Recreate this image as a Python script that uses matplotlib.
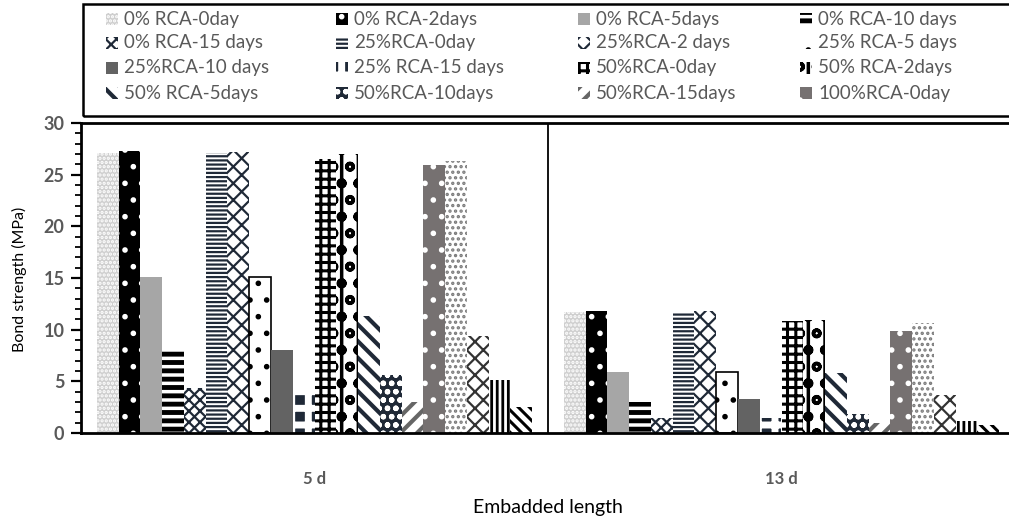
import matplotlib
matplotlib.use("Agg")
import matplotlib.pyplot as plt
import numpy as np
from matplotlib.patches import Rectangle
from matplotlib.ticker import MultipleLocator

plt.rcParams['font.family'] = ['Lato', 'DejaVu Sans']
plt.rcParams['hatch.linewidth'] = 1.6

categories = ["5 d", "13 d"]
series = ["0% RCA-0day", "0% RCA-2days", "0% RCA-5days", "0% RCA-10 days",
          "0% RCA-15 days", "25%RCA-0day", "25%RCA-2 days", "25% RCA-5 days",
          "25%RCA-10 days", "25% RCA-15 days", "50%RCA-0day", "50% RCA-2days",
          "50% RCA-5days", "50%RCA-10days", "50%RCA-15days", "100%RCA-0day",
          "100%RCA-2days", "100%RCA-5days", "100%RCA-10days", "100%RCA-15days"]
values_5d = [27.1, 27.3, 15.1, 8.0, 4.4, 27.1, 27.2, 15.1, 8.0, 4.2,
             26.5, 27.0, 11.3, 5.6, 3.0, 25.9, 26.3, 9.4, 5.1, 2.5]
values_13d = [11.7, 11.8, 5.9, 3.0, 1.5, 11.6, 11.8, 5.9, 3.3, 1.5,
              10.8, 10.9, 5.8, 1.8, 1.0, 9.9, 10.6, 3.7, 1.2, 0.8]
n_legend = 16
yticks = [0, 5, 10, 15, 20, 25, 30]

navy = '#1f2937'
styles = [
    dict(fc='#cfcfcf', hatch='....', ec='white'),
    dict(fc='black', hatch='.', ec='white'),
    dict(fc='#a6a6a6', hatch=None, ec='#a6a6a6'),
    dict(fc='white', hatch='--', ec='black', hlw=3.5),
    dict(fc='white', hatch='xxx', ec=navy),
    dict(fc='white', hatch='----', ec=navy),
    dict(fc='white', hatch='xx', ec=navy),
    dict(fc='white', hatch='.', ec='black', border=True),
    dict(fc='#636363', hatch=None, ec='#636363'),
    dict(fc=navy, hatch='+', ec='white', hlw=5),
    dict(fc='white', hatch='++', ec='black', hlw=2.2),
    dict(fc='white', hatch='|o', ec='black', hlw=2.5),
    dict(fc='white', hatch='\\\\', ec=navy, hlw=3),
    dict(fc=navy, hatch='oo', ec='white'),
    dict(fc='white', hatch='//', ec='#666666', hlw=3),
    dict(fc='#767171', hatch='.', ec='white'),
    dict(fc='white', hatch='...', ec='#7a7a7a'),
    dict(fc='white', hatch='xx', ec='#333333'),
    dict(fc='white', hatch='|||', ec='black', hlw=2),
    dict(fc='white', hatch='\\\\\\', ec='black', hlw=2.2),
]


def style_patch(p, st):
    if st.get('hlw') and hasattr(p, 'set_hatch_linewidth'):
        p.set_hatch_linewidth(st['hlw'])


W, H = 1009, 524
fig = plt.figure(figsize=(W / 100, H / 100), dpi=100)
ax = fig.add_axes([81 / W, (H - 433) / H, (1015 - 81) / W, (433 - 123) / H])

x = np.arange(len(categories))
n = len(series)
w = 0.932 / n
for i, name in enumerate(series):
    st = styles[i]
    vals = [values_5d[i], values_13d[i]]
    bars = ax.bar(x + (i - (n - 1) / 2) * w, vals, width=w,
                  color=st['fc'], hatch=st['hatch'], edgecolor=st['ec'],
                  linewidth=0, label=name)
    for b in bars:
        style_patch(b, st)
    if st.get('border'):
        ax.bar(x + (i - (n - 1) / 2) * w, vals, width=w, fill=False,
               edgecolor='black', linewidth=1.2)

ax.set_xlim(-0.5, 1.5)
ax.set_ylim(0, 30)
ax.set_yticks(yticks)
ax.yaxis.set_minor_locator(MultipleLocator(1))
ax.set_xticks(x)
ax.set_xticklabels(categories, fontsize=12, fontweight='bold', color='#595959')
ax.tick_params(axis='x', length=0, pad=27)
ax.tick_params(axis='y', which='major', length=7, width=1.6, direction='out',
               labelsize=13, labelcolor='#595959', pad=5)
ax.tick_params(axis='y', which='minor', length=4.5, width=1.3, direction='out')
for lab in ax.get_yticklabels():
    lab.set_fontweight('bold')
for s in ['left', 'bottom', 'top']:
    ax.spines[s].set_linewidth(2)
    ax.spines[s].set_color('black')
ax.spines['right'].set_visible(False)
ax.axvline(0.5, color='black', linewidth=1.3)

fig.text(19 / W, 1 - 279 / H, 'Bond strength (MPa)', rotation=90,
         ha='center', va='center', fontsize=11.5, color='black')
fig.text(0.5 * (81 + 1015) / W, 1 - 508 / H, 'Embadded length',
         ha='center', va='center', fontsize=14, color='black')

# legend box (Excel-style, 4 columns, row-wise order)
box_top, box_bot, box_left = 4, 116, 83
frame = Rectangle((box_left / W, 1 - box_bot / H), (1020 - box_left) / W,
                  (box_bot - box_top) / H, transform=fig.transFigure,
                  fill=False, edgecolor='black', linewidth=1.8, clip_on=False)
fig.add_artist(frame)
col_x = [106, 336, 578, 800]
row_y = [19, 43, 68, 93]
msz = 12
for k in range(n_legend):
    r, c = divmod(k, 4)
    st = styles[k]
    mx, my = col_x[c], row_y[r]
    m = Rectangle((mx / W, 1 - (my + msz / 2) / H), msz / W, msz / H,
                  transform=fig.transFigure, facecolor=st['fc'],
                  hatch=st['hatch'], edgecolor=st['ec'], linewidth=0)
    style_patch(m, st)
    fig.add_artist(m)
    fig.text((mx + msz + 6) / W, 1 - my / H, series[k], ha='left',
             va='center', fontsize=13.5, color='#595959')

fig.savefig('out.png', dpi=100)
